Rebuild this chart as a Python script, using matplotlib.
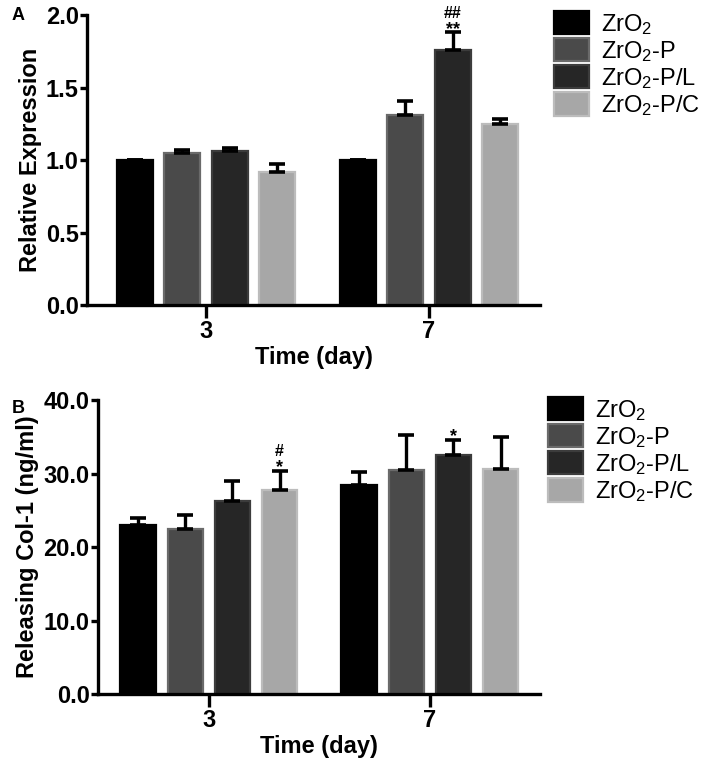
import numpy as np
import matplotlib
matplotlib.use('Agg')
import matplotlib.pyplot as plt
from matplotlib.patches import Patch

plt.rcParams['font.family'] = ['Liberation Sans', 'DejaVu Sans']
plt.rcParams['mathtext.fontset'] = 'custom'
plt.rcParams['mathtext.rm'] = 'Liberation Sans'
plt.rcParams['mathtext.it'] = 'Liberation Sans:italic'
plt.rcParams['mathtext.bf'] = 'Liberation Sans:bold'

days = ['3', '7']
groups = ['ZrO$_2$', 'ZrO$_2$-P', 'ZrO$_2$-P/L', 'ZrO$_2$-P/C']
fills = ['#000000', '#4a4a4a', '#262626', '#a7a7a7']
edges = ['#000000', '#6a6a6a', '#3c3c3c', '#bcbcbc']

# panel A: relative expression (rows = groups, cols = days)
expr_mean = [[1.00, 1.00], [1.05, 1.31], [1.06, 1.76], [0.92, 1.25]]
expr_err = [[0.00, 0.00], [0.02, 0.10], [0.02, 0.12], [0.05, 0.03]]
expr_marks = {(2, 1): ['**', '##']}

# panel B: released Col-1 (ng/ml)
col_mean = [[23.0, 28.5], [22.4, 30.5], [26.3, 32.5], [27.8, 30.6]]
col_err = [[0.9, 1.7], [1.9, 4.7], [2.7, 2.1], [2.6, 4.4]]
col_marks = {(3, 0): ['*', '#'], (2, 1): ['*']}

fig = plt.figure(figsize=(7.04, 7.58), dpi=100)


def draw_panel(ax, mean, err, marks, ylim, yticks, fmt, ylabel, xlim):
    x = np.arange(len(days))
    step = 0.213
    width = 0.162
    for i in range(len(groups)):
        pos = x + (i - 1.5) * step
        vals = np.array(mean[i])
        e = np.array(err[i])
        ax.bar(pos, vals, width, color=fills[i], edgecolor=edges[i], linewidth=1.6, zorder=2)
        ax.errorbar(pos, vals, yerr=[np.zeros_like(e), e], fmt='none', ecolor='black',
                    elinewidth=2.4, capsize=5.5, capthick=2.6, zorder=3)
        for j in range(len(days)):
            if (i, j) in marks:
                for k, m in enumerate(marks[(i, j)]):
                    # asterisks sit high in the font, so push them lower
                    off = -4 + 9 * k if m.startswith('*') else 9 * k - 1
                    ax.annotate(m, (pos[j], vals[j] + e[j]), xytext=(0, off),
                                textcoords='offset points', ha='center', va='bottom',
                                fontsize=13 if m.startswith('*') else 11.5,
                                fontweight='bold')
    ax.set_xlim(*xlim)
    ax.set_ylim(*ylim)
    ax.set_xticks(x)
    ax.set_xticklabels(days)
    ax.set_yticks(yticks)
    ax.set_yticklabels([fmt.format(t) for t in yticks])
    for s in ['top', 'right']:
        ax.spines[s].set_visible(False)
    for s in ['left', 'bottom']:
        ax.spines[s].set_linewidth(2.4)
    ax.tick_params(axis='y', length=5, width=2.4, labelsize=17, pad=1)
    ax.tick_params(axis='x', length=9, width=2.4, labelsize=17, pad=2)
    for lab in ax.get_xticklabels() + ax.get_yticklabels():
        lab.set_fontweight('bold')
    ax.set_ylabel(ylabel, fontsize=17, fontweight='bold', labelpad=3)
    ax.set_xlabel('Time (day)', fontsize=17, fontweight='bold', labelpad=2)


axA = fig.add_axes([87 / 704, 1 - 305 / 758, 453 / 704, 290 / 758])
draw_panel(axA, expr_mean, expr_err, expr_marks, (0, 2.0), [0.0, 0.5, 1.0, 1.5, 2.0],
           '{:.1f}', 'Relative Expression', (-0.534, 1.498))

axB = fig.add_axes([98 / 704, 1 - 694 / 758, 442 / 704, 294 / 758])
draw_panel(axB, col_mean, col_err, col_marks, (0, 40), [0, 10, 20, 30, 40],
           '{:.1f}', 'Releasing Col-1 (ng/ml)', (-0.502, 1.498))

handles = [Patch(facecolor=fills[i], edgecolor=edges[i], linewidth=1.6) for i in range(4)]
for ax, top, left in [(axA, 11, 554), (axB, 397, 548)]:
    fig.legend(handles, groups, loc='upper left', bbox_to_anchor=(left / 704, 1 - top / 758),
               frameon=False, fontsize=17, handlelength=1.5, handleheight=1.15,
               handletextpad=0.5, labelspacing=0.06, borderaxespad=0, borderpad=0)

fig.text(12 / 704, 1 - 16 / 758, 'A', fontsize=13, fontweight='bold', ha='left', va='center')
fig.text(12 / 704, 1 - 408 / 758, 'B', fontsize=13, fontweight='bold', ha='left', va='center')

fig.savefig('out.png', dpi=100)
